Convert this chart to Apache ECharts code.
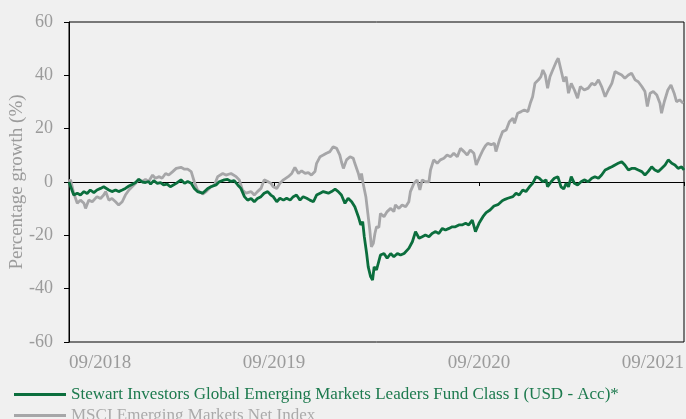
<!DOCTYPE html>
<html>
<head>
<meta charset="utf-8">
<script src="https://cdn.jsdelivr.net/npm/echarts@6/dist/echarts.min.js"></script>
<style>
  html, body { margin: 0; padding: 0; background: #f0f0f0; }
  #chart { width: 686px; height: 419px; }
</style>
</head>
<body>
<div id="chart"></div>
<script>
// x positions are weeks since 09/2018
var tickLabels = ['09/2018', '09/2019', '09/2020', '09/2021'];
var seriesNames = [
    'Stewart Investors Global Emerging Markets Leaders Fund Class I (USD - Acc)*',
    'MSCI Emerging Markets Net Index'
];

var fundWeeks = [0, 0.4, 1.2, 2.1, 2.9, 3.8, 4.6, 5.4, 6.3, 7.1, 8.0, 8.8, 9.3, 10.1, 10.9, 11.8, 12.6, 13.5, 14.3, 15.2, 16.0,
    16.9, 17.7, 18.6, 19.4, 20.2, 20.7, 21.5, 22.4, 23.2, 24.0, 24.9, 25.7, 27.2, 28.4, 29.3, 30.1, 31.0, 31.8, 32.6, 33.9,
    35.2, 36.0, 37.3, 38.1, 39.4, 40.2, 41.1, 41.9, 42.8, 43.6, 44.5, 45.3, 46.2, 47.0, 47.8, 48.7, 49.5, 50.4, 51.2, 51.8,
    52.7, 53.5, 54.4, 55.2, 56.1, 56.9, 57.7, 58.6, 59.4, 60.3, 61.1, 62.0, 62.8, 63.7, 64.5, 65.8, 66.6, 67.5, 68.3, 69.1,
    70.0, 70.8, 71.7, 72.5, 73.4, 74.0, 74.5, 74.9, 75.5, 75.9, 76.5, 77.0, 77.4, 78.0, 78.4, 79.0, 79.9, 80.7, 81.6, 82.4,
    83.3, 84.1, 85.0, 86.2, 87.1, 87.9, 88.8, 89.6, 90.4, 91.3, 92.1, 93.0, 93.8, 94.7, 95.5, 96.4, 97.2, 98.0, 98.9, 99.7,
    100.6, 101.4, 102.3, 103.1, 104.0, 105.0, 105.8, 106.8, 107.8, 108.8, 109.9, 110.6, 111.3, 112.6, 113.4, 114.2, 115.1,
    115.9, 116.8, 117.6, 118.5, 119.3, 120.2, 121.0, 121.4, 122.3, 123.1, 124.0, 124.8, 125.5, 126.1, 126.7, 127.4, 128.2,
    129.0, 129.9, 130.7, 131.7, 132.6, 133.4, 134.3, 135.1, 136.0, 136.8, 137.7, 138.5, 139.3, 140.2, 141.0, 141.9, 142.7,
    143.6, 144.4, 145.3, 146.1, 146.9, 147.8, 148.6, 149.5, 150.3, 151.2, 152.0, 152.9, 153.7, 154.5, 155.4, 156];
var fundValues = [0, 0.5, -4.9, -4.2, -4.9, -3.6, -4.3, -3.0, -4.0, -3.0, -2.4, -1.8, -1.1, -3.0, -3.6, -3.0, -3.6, -3.0, -2.4, -1.5, -0.9,
    -0.2, 1.0, 0, -0.2, 0.2, -0.8, 0.5, -0.5, -0.2, -1.1, -0.8, -1.8, -0.5, 0.8, -0.5, 0.2, -0.5, -2.4, -3.6, -4.2,
    -2.4, -1.8, -1.1, 0.1, 0.8, 1.0, 0.2, 0.5, -1.1, -2.4, -5.5, -6.8, -6.2, -7.4, -6.2, -5.5, -4.2, -3.6, -4.9, -5.5,
    -7.4, -6.1, -6.8, -6.1, -6.8, -5.5, -4.9, -6.8, -5.5, -6.1, -6.8, -7.4, -4.9, -4.2, -3.6, -4.2, -3.6, -2.7, -3.6, -4.9,
    -8.0, -6.1, -7.4, -9.3, -13.0, -16.1, -14.9, -20.5, -26.8, -31.8, -35.5, -36.8, -31.8, -33.0, -32.5, -27.4, -26.8, -28.6, -26.8, -28.0,
    -26.8, -27.4, -26.8, -24.9, -22.4, -18.6, -21.1, -20.5, -19.9, -20.5, -19.3, -18.6, -19.3, -17.4, -18.0, -17.4, -16.8, -16.8, -16.1, -16.1,
    -15.5, -16.1, -14.3, -18.6, -15.5, -13.0, -11.5, -10.5, -9.0, -8.5, -7.0, -6.5, -6.1, -5.5, -4.2, -4.9, -3.0,
    -3.6, -1.8, -0.5, 2.0, 1.4, 0.1, 0.8, -1.8, 0.1, 1.4, 2.0, -1.8, -2.6, -0.5, -1.8, 2.0, -0.5,
    -1.1, 0.1, 0.8, 0.1, 1.4, 2.0, 1.4, 2.6, 4.5, 5.1, 5.7, 6.4, 7.0, 7.6, 6.4, 4.5, 5.1,
    5.1, 4.5, 3.9, 2.6, 3.9, 5.7, 4.5, 3.9, 5.1, 6.4, 8.3, 7.0, 6.4, 5.1, 5.7, 4.5];

var indexWeeks = [0, 0.4, 1.2, 2.1, 2.9, 3.8, 4.2, 5.0, 5.9, 7.1, 8.0, 8.8, 9.3, 10.1, 10.9, 11.8, 12.6, 13.5, 14.3, 15.2, 16.0,
    16.9, 17.7, 18.6, 19.4, 20.2, 21.2, 21.9, 22.9, 23.6, 24.5, 25.3, 26.3, 27.2, 28.4, 29.3, 30.1, 31.0, 31.8, 32.6, 33.9,
    34.8, 36.0, 36.9, 37.7, 39.0, 39.8, 41.1, 42.4, 43.2, 44.0, 44.9, 46.2, 47.0, 47.8, 48.7, 49.5, 50.4, 51.2, 51.8, 52.7,
    53.5, 54.4, 55.6, 56.5, 57.3, 58.2, 59.0, 59.9, 60.7, 61.5, 62.4, 62.8, 63.7, 64.5, 65.3, 66.2, 67.0, 67.9, 68.7, 69.1,
    69.6, 70.4, 71.3, 72.1, 72.5, 73.4, 73.8, 74.2, 74.6, 75.3, 75.9, 76.3, 76.7, 77.2, 77.6, 78.0, 78.6, 79.0, 79.9, 80.7,
    81.6, 82.4, 82.8, 83.7, 84.5, 85.4, 86.2, 86.6, 87.5, 88.3, 89.0, 89.6, 90.4, 91.3, 91.7, 92.5, 93.4, 94.2, 95.1, 95.9,
    96.8, 97.6, 98.5, 99.3, 100.2, 101.0, 101.8, 102.7, 103.3, 104.2, 105.0, 105.6, 106.2, 107.1, 107.9, 108.3, 109.2,
    110.0, 110.9, 111.7, 112.6, 113.0, 113.8, 114.7, 115.5, 116.4, 117.0, 117.6, 118.2, 119.1, 119.7, 120.2, 120.8, 121.4,
    122.0, 122.7, 123.6, 124.1, 124.8, 125.5, 126.1, 126.7, 127.4, 128.2, 129.0, 129.7, 130.7, 131.7, 132.6, 133.4, 134.3,
    135.1, 136.0, 136.8, 137.7, 138.5, 139.3, 140.2, 141.0, 141.9, 142.7, 143.6, 144.4, 145.3, 146.1, 146.7, 147.4, 148.2,
    149.1, 149.9, 150.3, 151.0, 151.9, 152.7, 153.5, 154.1, 154.9, 155.8];
var indexValues = [0, 0.8, -4.2, -8.0, -6.8, -8.0, -9.9, -6.8, -7.4, -5.5, -6.2, -4.9, -3.6, -6.8, -6.2, -7.4, -8.6, -7.4, -4.9, -3.0, -1.8,
    -0.5, 1.0, 0.2, 1.0, 0.2, 2.6, 1.4, 2.0, 1.4, 3.2, 2.6, 3.9, 5.1, 5.5, 4.8, 4.8, 3.9, 0, -3.0, -4.5,
    -3.6, -1.8, -1.1, 2.0, 3.2, 2.6, 3.2, 2.0, 0.8, -3.0, -4.2, -3.6, -4.9, -3.6, -2.4, 0.8, 0.2, -0.5, -1.8, -2.4,
    -0.5, 0.8, 2.0, 3.2, 5.5, 3.2, 4.2, 3.2, 3.5, 2.6, 3.9, 7.0, 9.5, 10.1, 10.8, 11.4, 13.2, 12.6, 10.1, 7.6,
    5.1, 8.3, 9.5, 8.9, 7.0, 3.2, 0.8, 3.2, -0.5, -5.5, -13.0, -18.0, -24.3, -23.0, -19.3, -16.8, -17.0, -11.8, -13.0, -11.1,
    -9.9, -11.1, -8.6, -9.9, -8.6, -9.3, -7.4, -3.6, -0.5, 0.8, -3.0, 0.8, 0.1, 0.1, 4.5, 8.3, 7.0, 8.3, 8.9, 10.1,
    9.5, 10.8, 9.5, 12.6, 11.4, 10.1, 12.0, 10.8, 6.4, 9.5, 12.0, 13.5, 14.5, 14.0, 14.5, 11.4, 15.8,
    18.9, 19.5, 22.6, 23.9, 22.0, 25.8, 26.4, 27.0, 26.4, 29.5, 32.0, 37.0, 38.3, 39.5, 42.0, 40.1, 35.2,
    39.5, 42.0, 45.1, 46.4, 42.0, 37.6, 39.5, 33.3, 37.0, 34.5, 31.4, 35.8, 34.5, 35.2, 37.0, 36.4, 38.3,
    35.8, 32.0, 34.5, 37.0, 41.4, 40.8, 40.1, 38.9, 40.1, 40.8, 38.3, 37.6, 35.8, 33.9, 28.3, 33.3, 33.9,
    32.6, 29.5, 25.8, 30.1, 34.5, 36.4, 33.3, 30.1, 30.8, 29.5];

var fundColor = '#0b6e3d';
var indexColor = '#a6a6a8';
var labelColor = '#9b9b9b';
var fontName = '"Liberation Serif", "DejaVu Serif", serif';

function pairs(xs, ys) {
    return xs.map(function (x, i) { return [x, ys[i]]; });
}

function legendRow(name, color, top) {
    return {
        left: 9,
        top: top,
        itemWidth: 52,
        itemHeight: 3,
        icon: 'rect',
        textStyle: { fontSize: 17, fontFamily: fontName, color: color },
        data: [name]
    };
}

var mychart = echarts.init(document.getElementById('chart'));
var option = {
    backgroundColor: '#f0f0f0',
    animation: false,
    textStyle: { fontFamily: fontName },
    grid: {
        left: 69,
        right: 2,
        top: 22,
        bottom: 77,
        outerBoundsMode: 'none',
        containLabel: false,
        show: true,
        borderColor: '#000',
        borderWidth: 1,
        backgroundColor: 'transparent'
    },
    legend: [
        legendRow(seriesNames[0], '#1d7a4e', 381),
        legendRow(seriesNames[1], '#aaaaaa', 402)
    ],
    xAxis: {
        type: 'value',
        min: 0,
        max: 156,
        interval: 52,
        splitLine: { show: false },
        axisLine: { lineStyle: { color: '#000', width: 1 } },
        axisTick: { length: 4, lineStyle: { color: '#000' } },
        axisLabel: {
            color: labelColor,
            fontSize: 19,
            margin: 12,
            alignMinLabel: 'left',
            alignMaxLabel: 'right',
            formatter: function (v) { return tickLabels[Math.round(v / 52)]; }
        }
    },
    yAxis: {
        type: 'value',
        min: -60,
        max: 60,
        interval: 20,
        name: 'Percentage growth (%)',
        nameLocation: 'middle',
        nameGap: 42,
        nameMoveOverlap: false,
        nameTextStyle: { color: labelColor, fontSize: 19 },
        splitLine: { show: false },
        axisLine: { lineStyle: { color: '#000', width: 1 } },
        axisTick: { length: 5, lineStyle: { color: '#000' } },
        axisLabel: { color: labelColor, fontSize: 18, margin: 16 }
    },
    series: [
        {
            name: seriesNames[1],
            type: 'line',
            data: pairs(indexWeeks, indexValues),
            showSymbol: false,
            color: indexColor,
            lineStyle: { color: indexColor, width: 2.8 },
            z: 2,
            markLine: {
                silent: true,
                symbol: 'none',
                label: { show: false },
                lineStyle: { color: '#000', width: 1.2, type: 'solid' },
                data: [{ yAxis: 0 }],
                z: 1
            }
        },
        {
            name: seriesNames[0],
            type: 'line',
            data: pairs(fundWeeks, fundValues),
            showSymbol: false,
            color: fundColor,
            lineStyle: { color: fundColor, width: 2.8 },
            z: 3
        }
    ]
};
mychart.setOption(option);
</script>
</body>
</html>
